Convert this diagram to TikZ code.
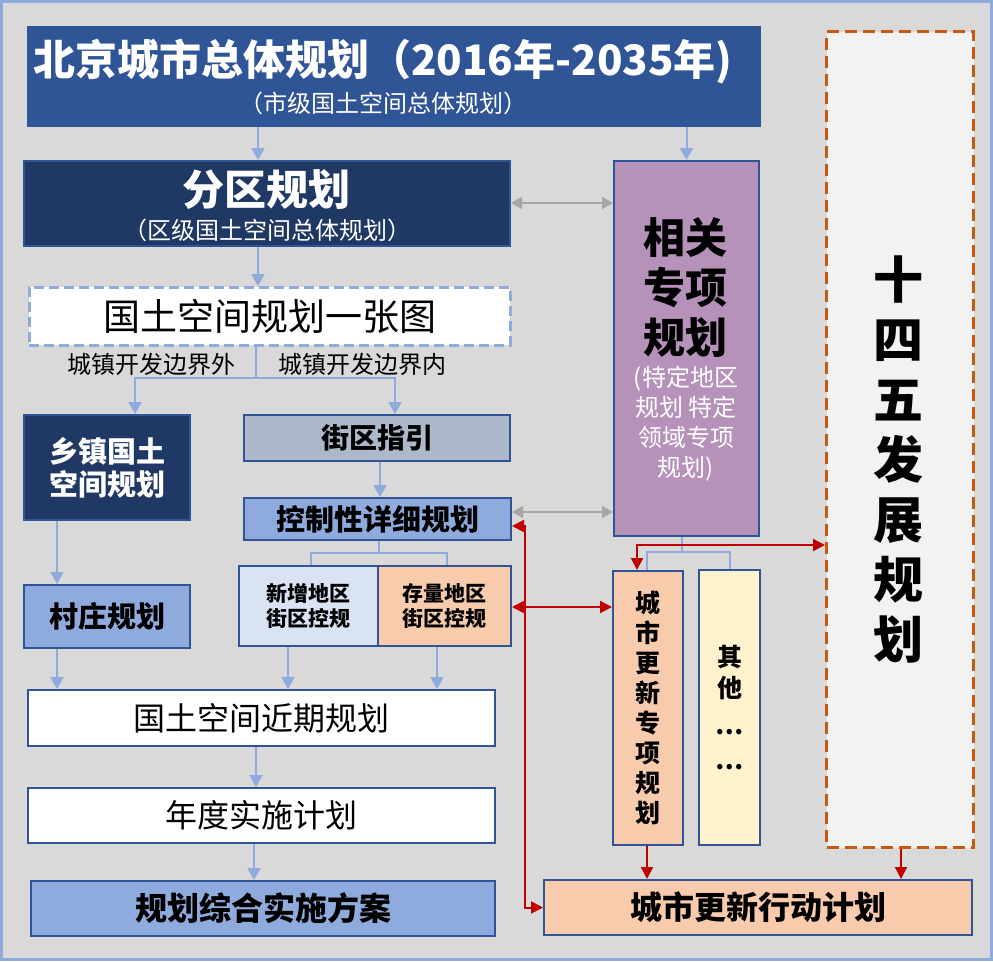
\documentclass[tikz,border=0pt]{standalone}
\usepackage{fontspec}
\setmainfont{Noto Sans CJK SC}
\usetikzlibrary{arrows.meta}
\definecolor{bg}{HTML}{D9D9D9}
\definecolor{frm}{HTML}{8FAADC}
\definecolor{tb}{HTML}{2F5597}
\definecolor{bd}{HTML}{2F5597}
\definecolor{navy}{HTML}{203864}
\definecolor{lbf}{HTML}{8FAADC}
\definecolor{gb}{HTML}{ADB9CA}
\definecolor{pb}{HTML}{DAE3F3}
\definecolor{pe}{HTML}{F8CBAD}
\definecolor{pu}{HTML}{B692BB}
\definecolor{ye}{HTML}{FFF2CC}
\definecolor{lg}{HTML}{F2F2F2}
\definecolor{org}{HTML}{C55A11}
\definecolor{rd}{HTML}{C00000}
\definecolor{gr}{HTML}{A6A6A6}
\definecolor{lb}{HTML}{8FAADC}
\tikzset{
  box/.style={draw=bd, line width=2pt, anchor=north west, inner sep=0pt, align=center, text=black},
  txt/.style={inner sep=0pt, align=center},
  bline/.style={draw=lb, line width=2pt},
  barrow/.style={bline, -{Triangle[width=13pt,length=12pt]}},
  garrow/.style={draw=gr, line width=1.5pt, {Triangle[width=12pt,length=11pt]}-{Triangle[width=12pt,length=11pt]}},
  rarrow/.style={draw=rd, line width=2pt, -{Triangle[width=12pt,length=12pt]}},
  rdbl/.style={draw=rd, line width=2pt, {Triangle[width=12pt,length=12pt]}-{Triangle[width=12pt,length=12pt]}},
}
\newcommand\fs[2]{\fontsize{#1}{#2}\selectfont}
\begin{document}
\begin{tikzpicture}[x=1pt,y=-1pt]
\useasboundingbox (0,0) rectangle (993,961);
\fill[bg] (0,0) rectangle (993,961);
\draw[frm, line width=3pt] (1.5,1.5) rectangle (991.5,959.5);

% x / y helper coordinates
\foreach \xx in {57,135,254,256,258,288,311,379,380,395,437,447,525,637,647,682,730,901}
  {\coordinate (p\xx) at (\xx,0);}
\foreach \yy in {203,378,512,526,545,552,553,607}
  {\coordinate (b\yy) at (0,\yy);}

% title
\node[box, fill=tb, draw=tb, minimum width=732pt, minimum height=99pt] (T) at (27,26) {};
\node[txt, text=white, font=\fs{42}{42}\bfseries] (Tt) at (383,62) {北京城市总体规划（2016年-2035年)};
\node[txt, text=white, font=\fs{24}{24}] (Ts) at (383,103) {（市级国土空间总体规划）};

% district plan
\node[box, fill=navy, minimum width=486pt, minimum height=85pt] (fq) at (23,160) {};
\node[txt, text=white, font=\fs{42}{42}\bfseries] (fqt) at (266,190) {分区规划};
\node[txt, text=white, font=\fs{24}{24}] (fqs) at (267,230) {（区级国土空间总体规划）};

% one map
\node[box, fill=white, draw=lb, line width=2.5pt, dash pattern=on 10pt off 5pt, minimum width=481pt, minimum height=58pt, font=\fs{37}{37}] (yzt) at (28,286) {国土空间规划一张图};
\node[txt, font=\fs{24}{24}] (lo) at (151,364) {城镇开发边界外};
\node[txt, font=\fs{24}{24}] (li) at (362,364) {城镇开发边界内};

% left column
\node[box, fill=navy, text=white, font=\fs{29}{33}\bfseries, minimum width=166pt, minimum height=105pt] (xz) at (23,414) {乡镇国土\\空间规划};
\node[box, fill=lbf, font=\fs{29}{29}\bfseries, minimum width=166pt, minimum height=63pt] (cz) at (23,584) {村庄规划};

% middle column
\node[box, fill=gb, font=\fs{28}{28}\bfseries, minimum width=266pt, minimum height=46pt] (jq) at (243,414) {街区指引};
\node[box, fill=lbf, font=\fs{29}{29}\bfseries, minimum width=267pt, minimum height=42pt] (kg) at (243,497) {控制性详细规划};
\node[box, fill=pb, font=\fs{21}{25}\bfseries, minimum width=139pt, minimum height=80pt] (xzq) at (238,565) {新增地区\\街区控规};
\node[box, fill=pe, font=\fs{21}{25}\bfseries, minimum width=133pt, minimum height=80pt] (clq) at (377,565) {存量地区\\街区控规};

% bottom left
\node[box, fill=white, font=\fs{32}{32}, minimum width=467pt, minimum height=56pt] (jq2) at (27,689) {国土空间近期规划};
\node[box, fill=white, font=\fs{32}{32}, minimum width=467pt, minimum height=55pt] (nd) at (27,787) {年度实施计划};
\node[box, fill=lbf, font=\fs{32}{32}\bfseries, minimum width=464pt, minimum height=55pt] (zh) at (30,880) {规划综合实施方案};

% related special plans
\node[box, fill=pu, minimum width=145pt, minimum height=375pt] (xg) at (613,160) {};
\node[txt, font=\fs{42}{50}\bfseries] (xgt) at (685,288) {相关\\专项\\规划};
\node[txt, text=white, font=\fs{24}{30}] (xgs) at (686,424) {(特定地区\\规划 特定\\领域专项\\规划)};

% 14th five-year plan
\node[box, fill=lg, draw=org, line width=3pt, dash pattern=on 12pt off 6pt, minimum width=147pt, minimum height=816pt] (sw) at (825,30) {};
\node[txt, font=\fs{50}{60}\bfseries] (swt) at (898,460) {十\\四\\五\\发\\展\\规\\划};

% urban renewal
\node[box, fill=pe, font=\fs{25}{30}\bfseries, minimum width=70pt, minimum height=274pt] (gx) at (612,570) {城\\市\\更\\新\\专\\项\\规\\划};
\node[box, fill=ye, font=\fs{25}{31}\bfseries, minimum width=61pt, minimum height=275pt] (qt) at (698,569) {其\\他\\[6pt]…\\[4pt]…};
\node[box, fill=pe, font=\fs{32}{32}\bfseries, minimum width=428pt, minimum height=55pt] (xd) at (543,879) {城市更新行动计划};

% blue connectors
\draw[barrow] (T.south -| p258) -- (fq.north -| p258);
\draw[barrow] (fq.south -| p258) -- (yzt.north -| p258);
\draw[barrow] (yzt.south -| p256) |- (p135 |- b378) -- (xz.north -| p135);
\draw[barrow] (yzt.south -| p256) |- (p395 |- b378) -- (jq.north -| p395);
\draw[barrow] (jq.south -| p380) -- (kg.north -| p380);
\draw[bline] (kg.south -| p379) |- (p311 |- b553) -- (xzq.north -| p311);
\draw[bline] (kg.south -| p379) |- (p447 |- b553) -- (clq.north -| p447);
\draw[barrow] (xzq.south -| p288) -- (jq2.north -| p288);
\draw[barrow] (clq.south -| p437) -- (jq2.north -| p437);
\draw[barrow] (xz.south -| p57) -- (cz.north -| p57);
\draw[barrow] (cz.south -| p57) -- (jq2.north -| p57);
\draw[barrow] (jq2.south -| p256) -- (nd.north -| p256);
\draw[barrow] (nd.south -| p254) -- (zh.north -| p254);
\draw[barrow] (T.south -| xg.north) -- (xg.north);
\draw[bline] (xg.south -| p682) |- (p647 |- b552) -- (gx.north -| p647);
\draw[bline] (xg.south -| p682) |- (p730 |- b552) -- (qt.north -| p730);

% gray connectors
\draw[garrow] (fq.east |- b203) -- (xg.west |- b203);
\draw[garrow] (kg.east |- b512) -- (xg.west |- b512);

% red connectors
\draw[rdbl] (gx.north -| p637) |- (sw.west |- b545);
\draw[rarrow] (gx.south -| p647) -- (xd.north -| p647);
\draw[rarrow] (sw.south -| p901) -- (xd.north -| p901);
\draw[rdbl] (kg.east |- b526) -| (p525 |- xd.west) -- (xd.west);
\draw[rdbl] (clq.east |- b607) -- (gx.west |- b607);
\end{tikzpicture}
\end{document}
